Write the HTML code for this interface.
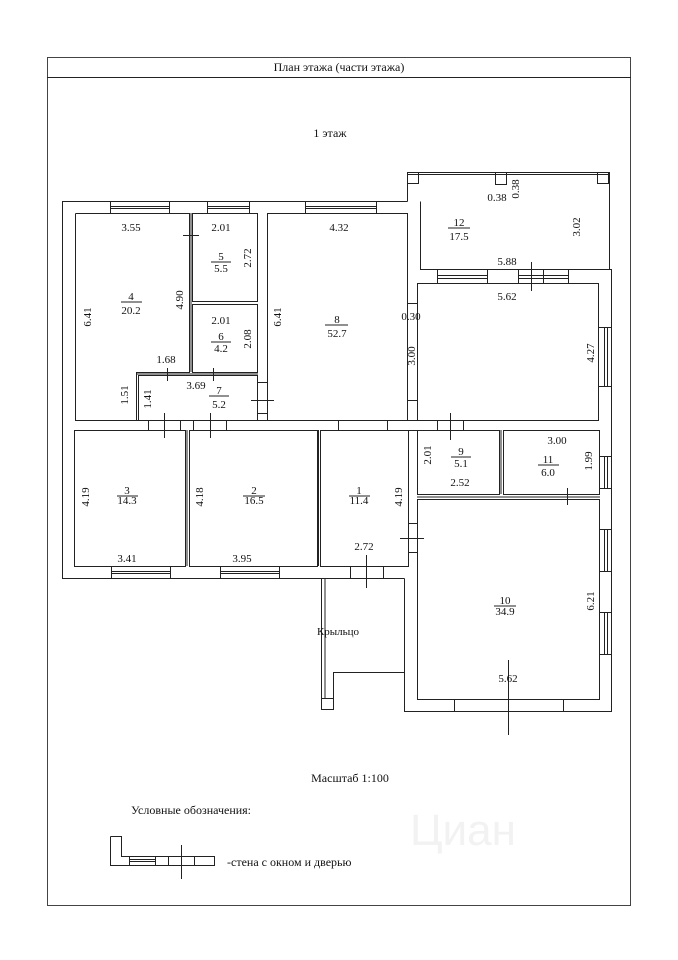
<!DOCTYPE html>
<html><head><meta charset="utf-8"><style>
html,body{margin:0;padding:0;background:#fff;}
svg{display:block;}
text{font-family:"Liberation Serif",serif;font-size:11px;fill:#111;}
</style></head><body>
<svg width="678" height="960" viewBox="0 0 678 960" xmlns="http://www.w3.org/2000/svg">
<g fill="none" stroke="#222" stroke-width="1">
<rect x="47.5" y="57.5" width="583" height="848" stroke="#444"/>
<line x1="47" y1="77.5" x2="631" y2="77.5"/>

<polyline points="407.5,201.5 62.5,201.5 62.5,578.5 404.5,578.5"/>
<polyline points="404.5,578.5 404.5,711.5 611.5,711.5 611.5,269.5 420.5,269.5 420.5,201.5"/>
<polyline points="407.5,201.5 407.5,172.5 609.5,172.5 609.5,269.5"/>
<line x1="407" y1="174.5" x2="609" y2="174.5"/>
<rect x="407.5" y="172.5" width="11" height="11"/>
<rect x="495.5" y="172.5" width="11" height="12"/>
<rect x="597.5" y="172.5" width="11" height="11"/>

<polyline points="75.5,213.5 189.5,213.5 189.5,372.5 136.5,372.5 136.5,420.5 75.5,420.5 75.5,213.5"/>
<rect x="192.5" y="213.5" width="65" height="88"/>
<rect x="192.5" y="304.5" width="65" height="68"/>
<line x1="191" y1="213" x2="191" y2="372"/>
<rect x="138.5" y="375.5" width="119" height="45"/>
<line x1="136" y1="374" x2="258" y2="374"/>
<rect x="267.5" y="213.5" width="140" height="207"/>
<rect x="417.5" y="283.5" width="181" height="137"/>
<rect x="407.5" y="303.5" width="10" height="97"/>
<line x1="257" y1="382.5" x2="267" y2="382.5"/><line x1="257" y1="413.5" x2="267" y2="413.5"/>

<rect x="74.5" y="430.5" width="111" height="136"/>
<rect x="189.5" y="430.5" width="128" height="136"/>
<line x1="187" y1="430" x2="187" y2="566"/>
<rect x="320.5" y="430.5" width="88" height="136"/>
<line x1="318.5" y1="430" x2="318.5" y2="566"/>
<rect x="417.5" y="430.5" width="82" height="64"/>
<rect x="503.5" y="430.5" width="96" height="64"/>
<line x1="501" y1="430" x2="501" y2="494"/>
<rect x="417.5" y="499.5" width="182" height="200"/>
<line x1="417" y1="497" x2="600" y2="497"/>
<rect x="408.5" y="523.5" width="9" height="29"/>

<polyline points="321.5,578.5 321.5,709.5 333.5,709.5 333.5,672.5 404.5,672.5 404.5,578.5"/>
<line x1="325" y1="578" x2="325" y2="698"/>
<line x1="321" y1="698.5" x2="333" y2="698.5"/>

<rect x="110.5" y="201.5" width="59" height="12"/><line x1="110" y1="206.5" x2="170" y2="206.5"/><line x1="110" y1="208.5" x2="170" y2="208.5"/>
<rect x="207.5" y="201.5" width="42" height="12"/><line x1="207" y1="206.5" x2="250" y2="206.5"/><line x1="207" y1="208.5" x2="250" y2="208.5"/>
<rect x="305.5" y="201.5" width="71" height="12"/><line x1="305" y1="206.5" x2="377" y2="206.5"/><line x1="305" y1="208.5" x2="377" y2="208.5"/>
<rect x="437.5" y="269.5" width="50" height="14"/><line x1="437" y1="275.5" x2="488" y2="275.5"/><line x1="437" y1="278.5" x2="488" y2="278.5"/>
<rect x="518.5" y="269.5" width="50" height="14"/><line x1="518" y1="275.5" x2="569" y2="275.5"/><line x1="518" y1="278.5" x2="569" y2="278.5"/><line x1="543.5" y1="269" x2="543.5" y2="283"/>
<rect x="598.5" y="327.5" width="13" height="59"/><line x1="604.5" y1="327" x2="604.5" y2="387"/><line x1="607.5" y1="327" x2="607.5" y2="387"/>
<rect x="599.5" y="456.5" width="12" height="32"/><line x1="604.5" y1="456" x2="604.5" y2="489"/><line x1="607.5" y1="456" x2="607.5" y2="489"/>
<rect x="599.5" y="529.5" width="12" height="42"/><line x1="604.5" y1="529" x2="604.5" y2="572"/><line x1="607.5" y1="529" x2="607.5" y2="572"/>
<rect x="599.5" y="612.5" width="12" height="42"/><line x1="604.5" y1="612" x2="604.5" y2="655"/><line x1="607.5" y1="612" x2="607.5" y2="655"/>
<rect x="111.5" y="566.5" width="59" height="12"/><line x1="111" y1="571.5" x2="171" y2="571.5"/><line x1="111" y1="573.5" x2="171" y2="573.5"/>
<rect x="220.5" y="566.5" width="59" height="12"/><line x1="220" y1="571.5" x2="280" y2="571.5"/><line x1="220" y1="573.5" x2="280" y2="573.5"/>
<rect x="454.5" y="699.5" width="109" height="12"/>
<rect x="350.5" y="566.5" width="33" height="12"/>
<rect x="148.5" y="420.5" width="32" height="10"/>
<rect x="193.5" y="420.5" width="33" height="10"/>
<rect x="338.5" y="420.5" width="49" height="10"/>
<rect x="437.5" y="420.5" width="26" height="10"/>
<line x1="136" y1="420.5" x2="599" y2="420.5"/>
<line x1="408" y1="430.5" x2="417" y2="430.5"/>

<line x1="183" y1="235.5" x2="199" y2="235.5"/><line x1="192.5" y1="228" x2="192.5" y2="243"/>
<line x1="167.5" y1="368" x2="167.5" y2="381"/>
<line x1="213.5" y1="368" x2="213.5" y2="381"/>
<line x1="164.5" y1="413" x2="164.5" y2="438"/>
<line x1="210.5" y1="413" x2="210.5" y2="438"/>
<line x1="251" y1="400.5" x2="274" y2="400.5"/>
<line x1="531.5" y1="262" x2="531.5" y2="291"/>
<line x1="450.5" y1="413" x2="450.5" y2="440"/>
<line x1="567.5" y1="488" x2="567.5" y2="505"/>
<line x1="400" y1="538.5" x2="424" y2="538.5"/>
<line x1="366.5" y1="555" x2="366.5" y2="588"/>
<line x1="508.5" y1="660" x2="508.5" y2="735"/>

<polyline points="110.5,836.5 121.5,836.5 121.5,856.5 214.5,856.5 214.5,865.5 110.5,865.5 110.5,836.5"/>
<line x1="129.5" y1="856" x2="129.5" y2="866"/><line x1="155.5" y1="856" x2="155.5" y2="866"/>
<line x1="130" y1="859.5" x2="155" y2="859.5"/><line x1="130" y1="861.5" x2="155" y2="861.5"/>
<line x1="168.5" y1="856" x2="168.5" y2="866"/><line x1="194.5" y1="856" x2="194.5" y2="866"/>
<line x1="181.5" y1="845" x2="181.5" y2="879"/>
</g>

<text x="410" y="845" style="font-family:'Liberation Sans',sans-serif;font-size:44px;fill:#f2f2f2;">Циан</text>

<text x="339" y="71" text-anchor="middle" style="font-size:12px">План этажа (части этажа)</text>
<text x="330" y="137" text-anchor="middle" style="font-size:12px">1 этаж</text>
<text x="131" y="231" text-anchor="middle">3.55</text>
<text x="221" y="231" text-anchor="middle">2.01</text>
<text x="339" y="231" text-anchor="middle">4.32</text>
<text x="221" y="324" text-anchor="middle">2.01</text>
<text x="166" y="363" text-anchor="middle">1.68</text>
<text x="196" y="389" text-anchor="middle">3.69</text>
<text x="507" y="265" text-anchor="middle">5.88</text>
<text x="507" y="300" text-anchor="middle">5.62</text>
<text x="497" y="201" text-anchor="middle">0.38</text>
<text x="411" y="320" text-anchor="middle">0.30</text>
<text x="557" y="444" text-anchor="middle">3.00</text>
<text x="460" y="486" text-anchor="middle">2.52</text>
<text x="127" y="562" text-anchor="middle">3.41</text>
<text x="242" y="562" text-anchor="middle">3.95</text>
<text x="364" y="550" text-anchor="middle">2.72</text>
<text x="508" y="682" text-anchor="middle">5.62</text>
<text x="338" y="635" text-anchor="middle">Крыльцо</text>

<g text-anchor="middle">
<text x="131" y="300">4</text><line x1="121" y1="302" x2="142" y2="302" stroke="#222"/><text x="131" y="314">20.2</text>
<text x="221" y="260">5</text><line x1="211" y1="262" x2="231" y2="262" stroke="#222"/><text x="221" y="272">5.5</text>
<text x="221" y="340">6</text><line x1="211" y1="342" x2="231" y2="342" stroke="#222"/><text x="221" y="352">4.2</text>
<text x="219" y="394">7</text><line x1="209" y1="396" x2="229" y2="396" stroke="#222"/><text x="219" y="408">5.2</text>
<text x="337" y="323">8</text><line x1="325" y1="325" x2="348" y2="325" stroke="#222"/><text x="337" y="337">52.7</text>
<text x="459" y="226">12</text><line x1="448" y1="228" x2="470" y2="228" stroke="#222"/><text x="459" y="240">17.5</text>
<text x="127" y="494">3</text><line x1="117" y1="496" x2="138" y2="496" stroke="#222"/><text x="127" y="504">14.3</text>
<text x="254" y="494">2</text><line x1="243" y1="496" x2="265" y2="496" stroke="#222"/><text x="254" y="504">16.5</text>
<text x="359" y="494">1</text><line x1="349" y1="496" x2="370" y2="496" stroke="#222"/><text x="359" y="504">11.4</text>
<text x="461" y="455">9</text><line x1="451" y1="457" x2="471" y2="457" stroke="#222"/><text x="461" y="467">5.1</text>
<text x="548" y="463">11</text><line x1="538" y1="465" x2="559" y2="465" stroke="#222"/><text x="548" y="476">6.0</text>
<text x="505" y="604">10</text><line x1="494" y1="606" x2="516" y2="606" stroke="#222"/><text x="505" y="615">34.9</text>
</g>

<g text-anchor="middle">
<text transform="translate(91,317) rotate(-90)">6.41</text>
<text transform="translate(183,300) rotate(-90)">4.90</text>
<text transform="translate(251,258) rotate(-90)">2.72</text>
<text transform="translate(251,339) rotate(-90)">2.08</text>
<text transform="translate(128,395) rotate(-90)">1.51</text>
<text transform="translate(151,399) rotate(-90)">1.41</text>
<text transform="translate(281,317) rotate(-90)">6.41</text>
<text transform="translate(415,356) rotate(-90)">3.00</text>
<text transform="translate(519,189) rotate(-90)">0.38</text>
<text transform="translate(580,227) rotate(-90)">3.02</text>
<text transform="translate(594,353) rotate(-90)">4.27</text>
<text transform="translate(89,497) rotate(-90)">4.19</text>
<text transform="translate(203,497) rotate(-90)">4.18</text>
<text transform="translate(402,497) rotate(-90)">4.19</text>
<text transform="translate(431,455) rotate(-90)">2.01</text>
<text transform="translate(592,461) rotate(-90)">1.99</text>
<text transform="translate(594,601) rotate(-90)">6.21</text>
</g>

<text x="350" y="782" text-anchor="middle" style="font-size:12px">Масштаб 1:100</text>
<text x="131" y="814" style="font-size:12px">Условные обозначения:</text>
<text x="227" y="866" style="font-size:12px">-стена с окном и дверью</text>
</svg>
</body></html>
